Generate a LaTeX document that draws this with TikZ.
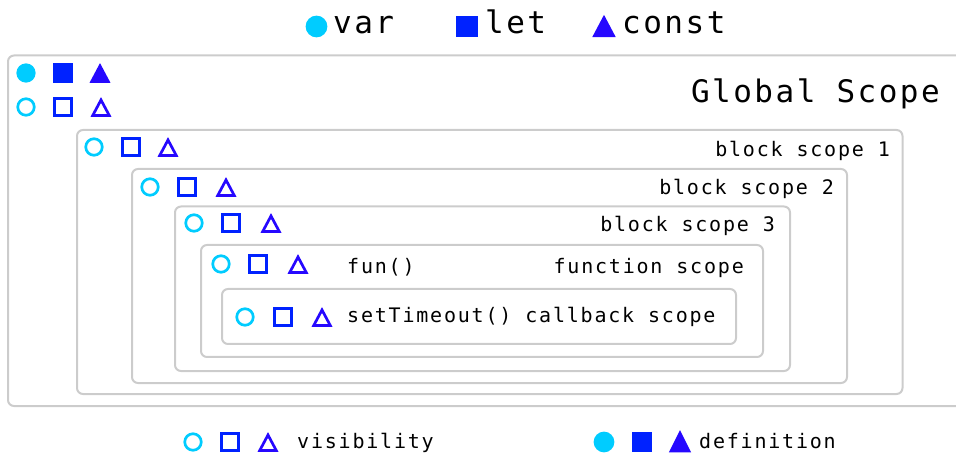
\documentclass[tikz,border=0pt]{standalone}
\usepackage{fontspec}
\usepackage{xcolor}
\usepackage{tikz}
\usetikzlibrary{shapes.geometric}

\newfontfamily\scopefont[LetterSpace=9]{DejaVu Sans Mono}
\newfontfamily\legendfont[LetterSpace=8]{DejaVu Sans Mono}

\definecolor{varcol}{RGB}{0,204,255}
\definecolor{letcol}{RGB}{0,34,255}
\definecolor{constcol}{RGB}{38,8,255}
\definecolor{framecol}{RGB}{204,204,204}

\begin{document}
\begin{tikzpicture}[
  x=1pt,
  y=-1pt,
  scopebox/.style={draw=framecol, line width=2pt, rounded corners=6pt,
    anchor=north west, inner sep=0pt, outer sep=0pt},
  scopename/.style={font=\scopefont\fontsize{20pt}{24pt}\selectfont,
    inner sep=0pt, anchor=base east},
  codename/.style={scopename, anchor=base west},
  bigname/.style={font=\legendfont\fontsize{31pt}{36pt}\selectfont,
    inner sep=0pt, anchor=base west},
  sym/.style={inner sep=0pt, outer sep=0pt, line width=2.7pt,
    minimum width=16.5pt, minimum height=16.5pt},
  varvis/.style={sym, circle, draw=varcol},
  letvis/.style={sym, rectangle, draw=letcol},
  constvis/.style={sym, isosceles triangle, isosceles triangle stretches,
    shape border rotate=90, draw=constcol, minimum height=15.5pt,
    yshift=-3.5pt},
  vardef/.style={varvis, fill=varcol},
  letdef/.style={letvis, fill=letcol},
  constdef/.style={constvis, fill=constcol},
  big/.style={minimum width=18pt, minimum height=18pt}
]
\useasboundingbox (0,0) rectangle (956,454);

% nested scopes
\node[scopebox, minimum width=962pt, minimum height=350.5pt] (global) at (8,55.5) {};
\node[scopebox, minimum width=825.5pt, minimum height=264pt] (block1) at (77,130) {};
\node[scopebox, minimum width=715pt, minimum height=214pt] (block2) at (132,169) {};
\node[scopebox, minimum width=615pt, minimum height=164.5pt] (block3) at (175,206.5) {};
\node[scopebox, minimum width=562pt, minimum height=112pt] (fun) at (201,245) {};
\node[scopebox, minimum width=514pt, minimum height=55pt] (callback) at (222,289) {};

% scope names
\node[bigname, anchor=base east] (global-name) at (940,103) {Global Scope};
\node[scopename] (block1-name) at (890,157) {block scope 1};
\node[scopename] (block2-name) at (834,195) {block scope 2};
\node[scopename] (block3-name) at (775,232) {block scope 3};
\node[codename] (fun-code) at (347,274) {fun()};
\node[scopename] (fun-name) at (744,274) {function scope};
\node[codename] (callback-name) at (347,323) {setTimeout() callback scope};

% global: definition and visibility
\node[vardef] (g-var-def) at (26,73) {};
\node[letdef] (g-let-def) at (63,73) {};
\node[constdef] (g-const-def) at (100,73) {};
\node[varvis] (g-var) at (26,107) {};
\node[letvis] (g-let) at (63,107) {};
\node[constvis] (g-const) at (101,107) {};

% inner scopes: visibility only
\node[varvis] (b1-var) at (94,147) {};
\node[letvis] (b1-let) at (131,147) {};
\node[constvis] (b1-const) at (168,147) {};
\node[varvis] (b2-var) at (150,187) {};
\node[letvis] (b2-let) at (187,187) {};
\node[constvis] (b2-const) at (226,187) {};
\node[varvis] (b3-var) at (194,223) {};
\node[letvis] (b3-let) at (231,223) {};
\node[constvis] (b3-const) at (271,223) {};
\node[varvis] (f-var) at (221,264) {};
\node[letvis] (f-let) at (258,264) {};
\node[constvis] (f-const) at (298,264) {};
\node[varvis] (cb-var) at (245,317) {};
\node[letvis] (cb-let) at (283,317) {};
\node[constvis] (cb-const) at (322,317) {};

% top legend
\node[vardef, minimum width=19pt, minimum height=19pt] (key-var) at (316.5,26.5) {};
\node[bigname] (key-var-name) at (333,34) {var};
\node[letdef, minimum width=19pt, minimum height=19pt] (key-let) at (467,26.5) {};
\node[bigname] (key-let-name) at (485,34) {let};
\node[constdef, minimum width=19pt, minimum height=18pt] (key-const) at (604,26.5) {};
\node[bigname] (key-const-name) at (622,34) {const};

% bottom legend
\node[varvis] (vis-var) at (193,442) {};
\node[letvis] (vis-let) at (230,442) {};
\node[constvis] (vis-const) at (268,442) {};
\node[codename] (vis-name) at (297,448) {visibility};
\node[vardef, big] (def-var) at (604,442) {};
\node[letdef, big] (def-let) at (642,442) {};
\node[constdef, big] (def-const) at (680,442) {};
\node[codename] (def-name) at (699,448) {definition};

\end{tikzpicture}
\end{document}
